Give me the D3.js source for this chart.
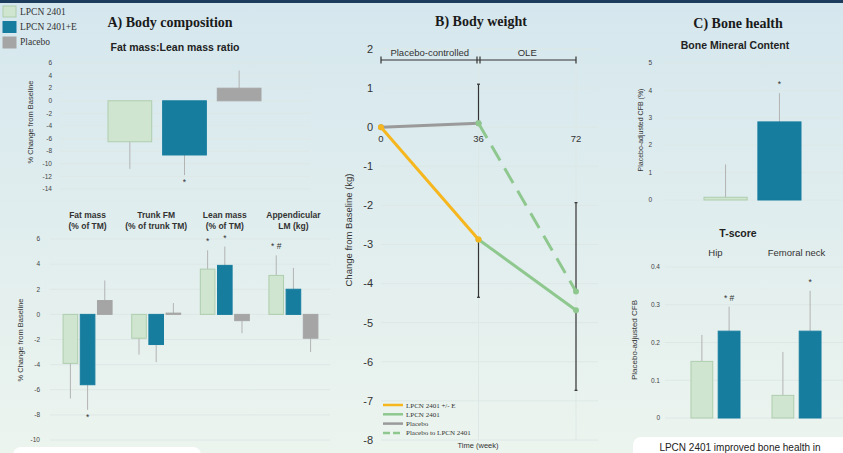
<!DOCTYPE html>
<html>
<head>
<meta charset="utf-8">
<script src="https://cdn.jsdelivr.net/npm/d3@7"></script>
<style>
  body { margin: 0; padding: 0; overflow: hidden; }
  svg { display: block; }
</style>
</head>
<body>
<div id="chart"></div>
<script>
const armNames = ["LPCN 2401", "LPCN 2401+E", "Placebo"];

// A) fat mass : lean mass ratio (% change from baseline)
const ratioValues = [-6.5, -8.6, 2.0];
const ratioErrEnds = [-10.8, -11.8, 4.8];
const ratioMarks = ["", "*", ""];

// A) composition panels
const compCategories = [["Fat mass", "(% of TM)"], ["Trunk FM", "(% of trunk TM)"], ["Lean mass", "(% of TM)"], ["Appendicular", "LM (kg)"]];
const compLpcn = [-3.9, -1.9, 3.6, 3.1];
const compLpcnE = [-5.6, -2.4, 3.9, 2.0];
const compPlacebo = [1.1, 0.1, -0.5, -1.9];
const compLpcnErr = [-6.7, -3.2, 5.1, 4.7];
const compLpcnEErr = [-7.6, -3.8, 5.4, 3.7];
const compPlaceboErr = [2.7, 0.9, -1.5, -3.0];
const compLpcnMarks = ["", "", "*", "* #"];
const compLpcnEMarks = ["*", "", "*", ""];

// B) body weight, change from baseline (kg)
const weekTicks = [0, 36, 72];
const lpcnEWeeks = [0, 36], lpcnEWeight = [0, -2.87];
const lpcnWeeks = [36, 72], lpcnWeight = [-2.87, -4.68];
const placeboWeeks = [0, 36], placeboWeight = [0, 0.1];
const switchWeeks = [36, 72], switchWeight = [0.1, -4.2];
const weightErrWeeks = [36, 36, 72, 72];
const weightErrFrom = [0.1, -2.87, -4.2, -4.68];
const weightErrTo = [1.1, -4.35, -1.93, -6.73];
const lineLegend = ["LPCN 2401 +/- E", "LPCN 2401", "Placebo", "Placebo to LPCN 2401"];

// C) bone mineral content, placebo-adjusted CFB (%)
const bmcValues = [0.1, 2.85];
const bmcErrEnds = [1.3, 3.9];
const bmcMarks = ["", "*"];

// C) T-score
const tCategories = ["Hip", "Femoral neck"];
const tLpcn = [0.15, 0.06];
const tLpcnE = [0.23, 0.23];
const tLpcnErr = [0.22, 0.175];
const tLpcnEErr = [0.295, 0.337];
const tLpcnEMarks = ["* #", "*"];

// ---- styles ----
let width = 843;
let height = 453;
const colLight = "#cfe5cf", colLightEdge = "#aecdae";
const colTeal = "#177d9f";
const colGray = "#a5a5a5";
const colYellow = "#f6b71e";
const colLineGreen = "#8fc88f";
const gridCol = "#dde8e6";
const sans = "'Liberation Sans', Arial, sans-serif";
const serif = "'Liberation Serif', 'Times New Roman', serif";
const armFill = [colLight, colTeal, colGray];
const armEdge = [colLightEdge, colTeal, colGray];

let svg = d3.select("#chart").append("svg").attr("width", width).attr("height", height);

// background gradient
let defs = svg.append("defs");
let grad = defs.append("linearGradient").attr("id", "bg").attr("x1", 0).attr("y1", 0).attr("x2", 0).attr("y2", 1);
grad.append("stop").attr("offset", "0%").attr("stop-color", "#d5e7ee");
grad.append("stop").attr("offset", "100%").attr("stop-color", "#ecf4ee");
svg.append("rect").attr("width", width).attr("height", height).attr("fill", "url(#bg)");
svg.append("rect").attr("width", width).attr("height", 3).attr("fill", "#1d3d5e");

// white boxes peeking in at the bottom
svg.append("rect").attr("x", 13).attr("y", 447).attr("width", 188).attr("height", 30).attr("rx", 8).attr("fill", "#fff");
svg.append("rect").attr("x", 633).attr("y", 437).attr("width", 230).attr("height", 40).attr("rx", 8).attr("fill", "#fff");
svg.append("text").attr("x", 740).attr("y", 451).attr("text-anchor", "middle")
  .style("font-family", sans).style("font-size", "10px").attr("fill", "#222")
  .text("LPCN 2401 improved bone health in");

function addText(x, y, str, size, opts) {
  opts = opts || {};
  return svg.append("text").attr("x", x).attr("y", y)
    .attr("text-anchor", opts.anchor || "middle")
    .style("font-family", opts.font || sans)
    .style("font-size", size + "px")
    .style("font-weight", opts.bold ? "bold" : "normal")
    .attr("fill", opts.color || "#222")
    .text(str);
}

function yAxisTitle(x, y, str, size) {
  svg.append("text").attr("transform", "translate(" + x + "," + y + ") rotate(-90)")
    .attr("text-anchor", "middle").style("font-family", sans).style("font-size", size + "px")
    .attr("fill", "#333").text(str);
}

// horizontal grid + tick labels for one bar panel
function drawYAxis(y, ticks, x0, x1, labelX, fmt, size) {
  let g = svg.append("g");
  g.selectAll("line").data(ticks).join("line")
    .attr("x1", x0).attr("x2", x1)
    .attr("y1", d => y(d)).attr("y2", d => y(d))
    .attr("stroke", gridCol).attr("stroke-width", 1);
  g.selectAll("text").data(ticks).join("text")
    .attr("x", labelX).attr("y", d => y(d)).attr("dy", "0.35em")
    .attr("text-anchor", "end").style("font-family", sans).style("font-size", size + "px")
    .attr("fill", "#444").text(fmt);
}

function drawBar(x, w, y, v, errEnd, fill, edge, mark) {
  let top = Math.min(y(0), y(v));
  let h = Math.abs(y(v) - y(0));
  let cx = x + w / 2;
  svg.append("line").attr("x1", cx).attr("x2", cx).attr("y1", y(v)).attr("y2", y(errEnd))
    .attr("stroke", "#b3b3b3").attr("stroke-width", 1);
  svg.append("rect").attr("x", x).attr("y", top).attr("width", w).attr("height", Math.max(h, 1))
    .attr("fill", fill).attr("stroke", edge).attr("stroke-width", 1);
  if (mark) {
    let my = errEnd >= 0 ? y(errEnd) - 6 : y(errEnd) + 10;
    addText(cx, my, mark, 8.5, {color: "#333"});
  }
}

// ---- legend top-left ----
armNames.forEach((n, i) => {
  svg.append("rect").attr("x", 3).attr("y", 6 + i * 15.5).attr("width", 13).attr("height", 11)
    .attr("fill", armFill[i]).attr("stroke", armEdge[i]);
  addText(20, 15 + i * 15, n, 9.5, {anchor: "start", font: serif, color: "#333"});
});

// ---- A) Body composition ----
addText(170, 27, "A) Body composition", 14, {font: serif, bold: true, color: "#1a1a1a"});
addText(175, 51, "Fat mass:Lean mass ratio", 10.5, {bold: true});

let yRatio = d3.scaleLinear().domain([-14, 6]).range([189, 63]);
drawYAxis(yRatio, d3.range(-14, 7, 2), 60, 310, 52, d => d, 6.5);
yAxisTitle(33, 122, "% Change from Baseline", 7.5);
let xRatio = d3.scaleBand().domain(armNames).range([108, 261]).paddingInner(0.2);
armNames.forEach((n, i) => {
  drawBar(xRatio(n), xRatio.bandwidth(), yRatio, ratioValues[i], ratioErrEnds[i], armFill[i], armEdge[i], ratioMarks[i]);
});

let yComp = d3.scaleLinear().domain([-10, 6]).range([440, 239]);
drawYAxis(yComp, d3.range(-10, 7, 2), 50, 330, 40, d => d, 6.5);
yAxisTitle(23, 340, "% Change from Baseline", 7.5);
let catNames = compCategories.map(c => c[0]);
let xComp = d3.scaleBand().domain(catNames).range([53, 328]).paddingInner(0.286).paddingOuter(0.147);
let xArm = d3.scaleBand().domain(armNames).range([0, xComp.bandwidth()]).paddingInner(0.15);
let compSeries = [compLpcn, compLpcnE, compPlacebo];
let compErrs = [compLpcnErr, compLpcnEErr, compPlaceboErr];
let compMarks = [compLpcnMarks, compLpcnEMarks, ["", "", "", ""]];
compCategories.forEach((c, ci) => {
  let cx = xComp(c[0]) + xComp.bandwidth() / 2;
  addText(cx, 218, c[0], 8.5, {bold: true, color: "#333"});
  addText(cx, 229, c[1], 8.5, {bold: true, color: "#333"});
  armNames.forEach((n, ai) => {
    drawBar(xComp(c[0]) + xArm(n), xArm.bandwidth(), yComp, compSeries[ai][ci], compErrs[ai][ci],
      armFill[ai], armEdge[ai], compMarks[ai][ci]);
  });
});

// ---- B) Body weight ----
addText(481, 26, "B) Body weight", 14, {font: serif, bold: true, color: "#1a1a1a"});
let xWeek = d3.scaleLinear().domain([0, 72]).range([381, 576]);
let yWeight = d3.scaleLinear().domain([-8, 2]).range([440, 49]);

let bg = svg.append("g");
bg.selectAll("line.h").data(d3.range(-8, 3, 1)).join("line").attr("class", "h")
  .attr("x1", 381).attr("x2", 598).attr("y1", d => yWeight(d)).attr("y2", d => yWeight(d))
  .attr("stroke", gridCol);
bg.selectAll("line.v").data([36, 72]).join("line").attr("class", "v")
  .attr("x1", d => xWeek(d)).attr("x2", d => xWeek(d)).attr("y1", yWeight(2)).attr("y2", yWeight(-8))
  .attr("stroke", gridCol);
bg.selectAll("text.y").data(d3.range(-8, 3, 1)).join("text").attr("class", "y")
  .attr("x", 373).attr("y", d => yWeight(d)).attr("dy", "0.35em").attr("text-anchor", "end")
  .style("font-family", sans).style("font-size", "11px").attr("fill", "#333").text(d => d);
bg.selectAll("text.x").data(weekTicks).join("text").attr("class", "x")
  .attr("x", d => xWeek(d)).attr("y", yWeight(0) + 15).attr("text-anchor", "middle")
  .style("font-family", sans).style("font-size", "9.5px").attr("fill", "#333").text(d => d);
addText(478, 448, "Time (week)", 7.5, {color: "#333"});
yAxisTitle(352, 230, "Change from Baseline (kg)", 9.5);

// study period bracket
let brY = 60;
let brG = svg.append("g").attr("stroke", "#333").attr("stroke-width", 1.2);
brG.append("line").attr("x1", xWeek(0)).attr("x2", xWeek(72)).attr("y1", brY).attr("y2", brY);
[xWeek(0), xWeek(36) - 1.5, xWeek(36) + 1.5, xWeek(72)].forEach(bx => {
  brG.append("line").attr("x1", bx).attr("x2", bx).attr("y1", brY - 3.5).attr("y2", brY + 3.5);
});
addText((xWeek(0) + xWeek(36)) / 2, 56, "Placebo-controlled", 9.5, {color: "#333"});
addText((xWeek(36) + xWeek(72)) / 2, 56, "OLE", 9.5, {color: "#333"});

// error bars
weightErrWeeks.forEach((w, i) => {
  let ex = xWeek(w);
  svg.append("line").attr("x1", ex).attr("x2", ex).attr("y1", yWeight(weightErrFrom[i])).attr("y2", yWeight(weightErrTo[i]))
    .attr("stroke", "#333").attr("stroke-width", 1.2);
  svg.append("line").attr("x1", ex - 1.5).attr("x2", ex + 1.5).attr("y1", yWeight(weightErrTo[i])).attr("y2", yWeight(weightErrTo[i]))
    .attr("stroke", "#333").attr("stroke-width", 1.2);
});

let lineGen = d3.line().x(d => xWeek(d[0])).y(d => yWeight(d[1]));
let weightLines = [
  {w: placeboWeeks, v: placeboWeight, col: "#9a9a9a", dash: null},
  {w: switchWeeks, v: switchWeight, col: colLineGreen, dash: "17,9"},
  {w: lpcnWeeks, v: lpcnWeight, col: colLineGreen, dash: null},
  {w: lpcnEWeeks, v: lpcnEWeight, col: colYellow, dash: null}
];
weightLines.forEach(l => {
  let pts = l.w.map((w, i) => [w, l.v[i]]);
  svg.append("path").attr("d", lineGen(pts)).attr("fill", "none")
    .attr("stroke", l.col).attr("stroke-width", 3).attr("stroke-dasharray", l.dash);
  svg.selectAll(null).data(pts).join("circle")
    .attr("cx", d => xWeek(d[0])).attr("cy", d => yWeight(d[1])).attr("r", 3).attr("fill", l.col);
});

// line legend
let legCols = [colYellow, colLineGreen, "#9a9a9a", colLineGreen];
lineLegend.forEach((n, i) => {
  let ly = 405 + i * 9.3;
  svg.append("line").attr("x1", 383).attr("x2", 403).attr("y1", ly).attr("y2", ly)
    .attr("stroke", legCols[i]).attr("stroke-width", 2.5).attr("stroke-dasharray", i === 3 ? "7,3" : null);
  addText(406, ly + 2.5, n, 7, {anchor: "start", font: serif, color: "#333"});
});

// ---- C) Bone health ----
addText(738, 28, "C) Bone health", 14, {font: serif, bold: true, color: "#1a1a1a"});
addText(735, 49, "Bone Mineral Content", 10.5, {bold: true});

let yBmc = d3.scaleLinear().domain([0, 5]).range([200, 63]);
drawYAxis(yBmc, d3.range(0, 6, 1), 665, 843, 652, d => d, 6.5);
yAxisTitle(643, 130, "Placebo-adjusted  CFB (%)", 7);
let xBmc = d3.scaleBand().domain(armNames.slice(0, 2)).range([704, 801]).paddingInner(0.2);
armNames.slice(0, 2).forEach((n, i) => {
  drawBar(xBmc(n), xBmc.bandwidth(), yBmc, bmcValues[i], bmcErrEnds[i], armFill[i], armEdge[i], bmcMarks[i]);
});

addText(738, 237, "T-score", 10.5, {bold: true});
let yT = d3.scaleLinear().domain([0, 0.4]).range([418, 267]);
drawYAxis(yT, [0, 0.1, 0.2, 0.3, 0.4], 665, 843, 660, d => d, 6.5);
yAxisTitle(637, 340, "Placebo-adjusted CFB", 8);
let xT = d3.scaleBand().domain(tCategories).range([670, 842]).paddingInner(0.395).paddingOuter(0.259);
let xTArm = d3.scaleBand().domain(armNames.slice(0, 2)).range([0, xT.bandwidth()]).paddingInner(0.2);
tCategories.forEach((c, ci) => {
  addText(xT(c) + xT.bandwidth() / 2, 256, c, 9.5, {color: "#333"});
  drawBar(xT(c) + xTArm(armNames[0]), xTArm.bandwidth(), yT, tLpcn[ci], tLpcnErr[ci], armFill[0], armEdge[0], "");
  drawBar(xT(c) + xTArm(armNames[1]), xTArm.bandwidth(), yT, tLpcnE[ci], tLpcnEErr[ci], armFill[1], armEdge[1], tLpcnEMarks[ci]);
});
</script>
</body>
</html>
